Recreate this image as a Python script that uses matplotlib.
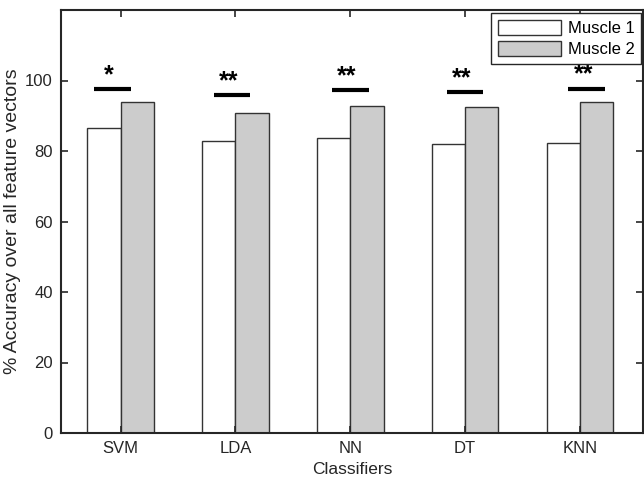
import matplotlib.pyplot as plt
import numpy as np

plt.rcParams['font.family'] = ['Liberation Sans Narrow', 'Liberation Sans', 'DejaVu Sans']

# data
classifiers = ['SVM', 'LDA', 'NN', 'DT', 'KNN']
muscle1 = [86.5, 82.8, 83.7, 82.1, 82.4]
muscle2 = [93.8, 90.8, 92.7, 92.6, 93.8]
sig_marks = ['*', '**', '**', '**', '**']
sig_level = [97.5, 95.9, 97.2, 96.7, 97.7]
sig_shift = [-0.07, -0.03, 0.0, 0.0, 0.06]

x = np.arange(1, len(classifiers) + 1)
width = 0.29

fig = plt.figure(figsize=(6.44, 4.88), dpi=100)
ax = fig.add_axes([61 / 644, 1 - 433 / 488, 582 / 644, 423 / 488])

ax.bar(x - width / 2, muscle1, width, color='white', edgecolor='#333333',
       linewidth=1.0, label='Muscle 1')
ax.bar(x + width / 2, muscle2, width, color='#cccccc', edgecolor='#333333',
       linewidth=1.0, label='Muscle 2')

# significance bars and stars
for xi, lvl, mk, sh in zip(x, sig_level, sig_marks, sig_shift):
    ax.plot([xi + sh - 0.16, xi + sh + 0.16], [lvl, lvl], color='black',
            linewidth=3, solid_capstyle='butt')
    ax.text(xi + sh - 0.03, lvl + 0.6, mk, ha='center', va='bottom',
            fontsize=18, fontweight='bold')

ax.set_xlim(0.48, 5.55)
ax.set_ylim(0, 120)
ax.set_xticks(x, classifiers)
ax.set_yticks(np.arange(0, 101, 20))
ax.tick_params(direction='in', length=5, width=1.2, top=True, right=True,
               labelsize=12, colors='#262626', pad=6)
for sp in ax.spines.values():
    sp.set_linewidth(1.5)
    sp.set_color('#262626')

ax.set_xlabel('Classifiers', fontsize=12.5, color='#262626', labelpad=4)
ax.set_ylabel('% Accuracy over all feature vectors', fontsize=14,
              color='#262626', labelpad=3)

leg = ax.legend(loc='upper right', bbox_to_anchor=(1.0, 0.997), fontsize=12,
                fancybox=False, framealpha=1, edgecolor='#262626',
                handlelength=3.8, handleheight=1.0, borderpad=0.4,
                labelspacing=0.3, handletextpad=0.4, borderaxespad=0.1)
leg.get_frame().set_linewidth(1.0)

plt.savefig('out.png', dpi=100)
